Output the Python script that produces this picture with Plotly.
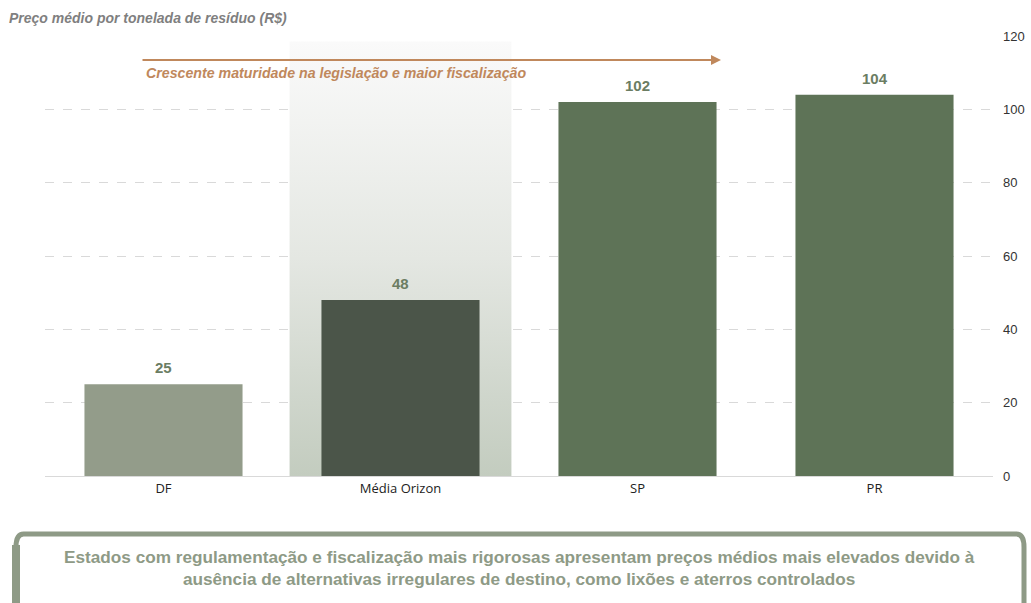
import plotly.graph_objects as go

categories = ["DF", "Média Orizon", "SP", "PR"]
values = [25, 48, 102, 104]
bar_colors = ["#939c8a", "#4b5549", "#5e7357", "#5e7357"]
y_ticks = [0, 20, 40, 60, 80, 100, 120]

title_text = "Preço médio por tonelada de resíduo (R$)"
arrow_text = "Crescente maturidade na legislação e maior fiscalização"
note_text = ("Estados com regulamentação e fiscalização mais rigorosas apresentam preços médios mais elevados devido à"
             "<br>ausência de alternativas irregulares de destino, como lixões e aterros controlados")

W, H = 1031, 603
ml, mr, mt, mb = 45, 38, 36, 127
pw = W - ml - mr
ph = H - mt - mb

def px_x(p):
    return (p - ml) / pw

def px_y(p):
    return (H - mb - p) / ph

xs = list(range(len(categories)))
xr = [-0.5, len(categories) - 0.5]
yr = [0, 120]

fig = go.Figure()

# highlighted background behind "Média Orizon" (base axes, drawn underneath)
hi = categories.index("Média Orizon")
hw = 0.468
top = 118.5
fig.add_trace(go.Scatter(
    x=[hi - hw, hi + hw, hi + hw, hi - hw, hi - hw],
    y=[0, 0, top, top, 0],
    fill="toself", mode="lines", line=dict(width=0),
    fillgradient=dict(type="vertical",
                      colorscale=[[0, "#c3ccbf"], [0.5, "#e4e7e2"], [1, "#fafafa"]]),
    hoverinfo="skip", showlegend=False, xaxis="x", yaxis="y",
))

# bars on overlaying axes so they sit above the background
fig.add_trace(go.Bar(
    x=xs, y=values, width=0.667,
    marker=dict(color=bar_colors, line=dict(width=0)),
    showlegend=False, hoverinfo="skip", xaxis="x2", yaxis="y2",
))

for xi, v in zip(xs, values):
    fig.add_annotation(x=xi, y=v, xref="x2", yref="y2", text=f"<b>{v}</b>", showarrow=False,
                       yanchor="bottom", yshift=6,
                       font=dict(size=15, color="#6b7d63", family="Liberation Sans, Arial"))

# title
fig.add_annotation(xref="paper", yref="paper", x=px_x(7), y=px_y(18),
                   xanchor="left", yanchor="middle", showarrow=False,
                   text=f"<b><i>{title_text}</i></b>",
                   font=dict(size=14, color="#7f7f7f", family="Liberation Sans, Arial"))

# arrow
fig.add_annotation(xref="paper", yref="paper", x=px_x(721), y=px_y(60),
                   ax=141 - 721, ay=0, axref="pixel", ayref="pixel",
                   showarrow=True, arrowhead=2, arrowsize=1, arrowwidth=2,
                   arrowcolor="#c0885c", text="")
fig.add_annotation(xref="paper", yref="paper", x=px_x(144), y=px_y(73),
                   xanchor="left", yanchor="middle", showarrow=False,
                   text=f"<b><i>{arrow_text}</i></b>",
                   font=dict(size=14.2, color="#c0885c", family="Liberation Sans, Arial"))

# bottom note box
x0, x1 = px_x(16), px_x(1024)
y0, y1 = px_y(534), px_y(615)
rx, ry = 0.008, 0.03
path = (f"M {x0+rx},{y0} L {x1-rx},{y0} Q {x1},{y0} {x1},{y0-ry} "
        f"L {x1},{y1} L {x0},{y1} L {x0},{y0-ry} Q {x0},{y0} {x0+rx},{y0} Z")
fig.add_shape(type="path", xref="paper", yref="paper", path=path,
              line=dict(color="#8e9a86", width=5), fillcolor="white", layer="above")
fig.add_shape(type="line", xref="paper", yref="paper",
              x0=px_x(16), x1=px_x(16), y0=px_y(545), y1=px_y(615),
              line=dict(color="#8e9a86", width=8), layer="above")
fig.add_annotation(xref="paper", yref="paper", x=0.5, y=px_y(568),
                   xanchor="center", yanchor="middle", showarrow=False,
                   text=f"<b>{note_text}</b>", align="center",
                   font=dict(size=17.2, color="#8e9a86", family="Liberation Sans, Arial"))

fig.update_layout(
    width=W, height=H,
    margin=dict(l=ml, r=mr, t=mt, b=mb),
    paper_bgcolor="white", plot_bgcolor="white",
    xaxis=dict(range=xr, showgrid=False, zeroline=False, showticklabels=False,
               showline=False, ticks="", automargin=False),
    yaxis=dict(range=yr, showgrid=False, zeroline=False, showticklabels=False,
               showline=False, ticks="", automargin=False),
    xaxis2=dict(range=xr, overlaying="x", tickvals=xs, ticktext=categories, automargin=False,
                showgrid=False, zeroline=False, showline=True, linecolor="#d9d9d9", linewidth=1,
                ticks="", tickfont=dict(size=13, color="#222222", family="Open Sans, Arial")),
    yaxis2=dict(range=yr, overlaying="y", tickvals=y_ticks, side="right", automargin=False,
                showgrid=True, gridcolor="#d9d9d9", griddash="dash", gridwidth=1,
                zeroline=False, showline=False, ticks="", ticklabelstandoff=9,
                tickfont=dict(size=13, color="#333333", family="Liberation Sans, Arial")),
)

fig.write_html("out.html")
